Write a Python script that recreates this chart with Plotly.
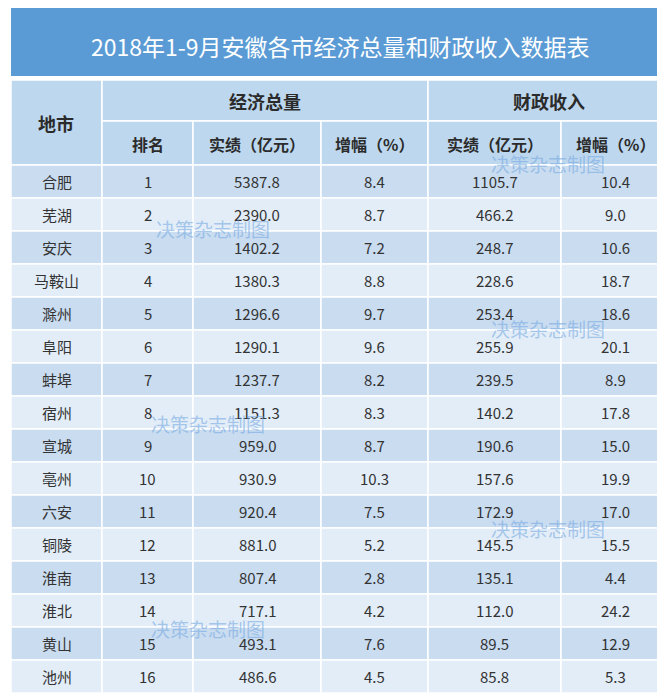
import plotly.graph_objects as go

cities = ["合肥","芜湖","安庆","马鞍山","滁州","阜阳","蚌埠","宿州","宣城","亳州","六安","铜陵","淮南","淮北","黄山","池州"]
ranks = list(range(1, 17))
gdp = ["5387.8","2390.0","1402.2","1380.3","1296.6","1290.1","1237.7","1151.3","959.0","930.9","920.4","881.0","807.4","717.1","493.1","486.6"]
gdp_growth = ["8.4","8.7","7.2","8.8","9.7","9.6","8.2","8.3","8.7","10.3","7.5","5.2","2.8","4.2","7.6","4.5"]
rev = ["1105.7","466.2","248.7","228.6","253.4","255.9","239.5","140.2","190.6","157.6","172.9","145.5","135.1","112.0","89.5","85.8"]
rev_growth = ["10.4","9.0","10.6","18.7","18.6","20.1","8.9","17.8","15.0","19.9","17.0","15.5","4.4","24.2","12.9","5.3"]
title = "2018年1-9月安徽各市经济总量和财政收入数据表"
group_headers = ["经济总量", "财政收入"]
sub_headers = ["排名", "实绩（亿元）", "增幅（%）", "实绩（亿元）", "增幅（%）"]

W, H = 665, 695
cols = [3, 94, 185, 313, 420, 553, 662]
top_title, bot_title = 0, 68
h1, h2, h3 = 72, 113, 157
row_h = (685 - h3) / 16

shapes, ann = [], []
def rect(x0, y0, x1, y1, fill, line="white", lw=1.5):
    shapes.append(dict(type="rect", x0=x0, x1=x1, y0=y0, y1=y1, fillcolor=fill,
                       line=dict(color=line, width=lw), layer="below"))
def text(x, y, s, size, color="#2b2b2b", bold=False, family="Noto Sans CJK SC"):
    ann.append(dict(x=x, y=y, text=f"<b>{s}</b>" if bold else s, showarrow=False,
                    font=dict(size=size, color=color, family=family), xanchor="center", yanchor="middle"))

rect(3, top_title, 662, bot_title, "#5b9bd5", line="#5b9bd5", lw=0)
text(332, 38, title, 23, color="white")
rect(3, h1, 662, h3, "#bdd7ee", line="#bdd7ee", lw=0)
rect(3, h1, cols[1], h3, "#bdd7ee")
rect(cols[1], h1, cols[4], h2, "#bdd7ee")
rect(cols[4], h1, cols[6], h2, "#bdd7ee")
for i in range(5):
    rect(cols[i+1], h2, cols[i+2], h3, "#bdd7ee")
text(48, 115, "地市", 18, bold=True)
text((cols[1]+cols[4])/2, 93, group_headers[0], 18, bold=True)
text((cols[4]+cols[6])/2, 93, group_headers[1], 18, bold=True)
for i, s in enumerate(sub_headers):
    text((cols[i+1]+cols[i+2])/2, 136, s, 16, bold=True)

for r in range(16):
    y0 = h3 + r*row_h; y1 = y0 + row_h; yc = (y0+y1)/2
    fill = "#c9dcf0" if r % 2 == 0 else "#e2edf8"
    vals = [cities[r], str(ranks[r]), gdp[r], gdp_growth[r], rev[r], rev_growth[r]]
    for c in range(6):
        rect(cols[c], y0, cols[c+1], y1, fill)
        text((cols[c]+cols[c+1])/2, yc, vals[c], 15, color="#333333")

for x, y in [(205, 220), (540, 155), (540, 320), (200, 415), (540, 520), (200, 620)]:
    text(x, y, "决策杂志制图", 19, color="rgba(120,170,225,0.6)")

fig = go.Figure()
fig.update_layout(width=W, height=H, margin=dict(l=0, r=0, t=0, b=0),
                  paper_bgcolor="white", plot_bgcolor="white",
                  xaxis=dict(range=[0, W], visible=False, fixedrange=True),
                  yaxis=dict(range=[H, 0], visible=False, fixedrange=True),
                  shapes=shapes, annotations=ann, showlegend=False)
fig.write_html("out.html")
